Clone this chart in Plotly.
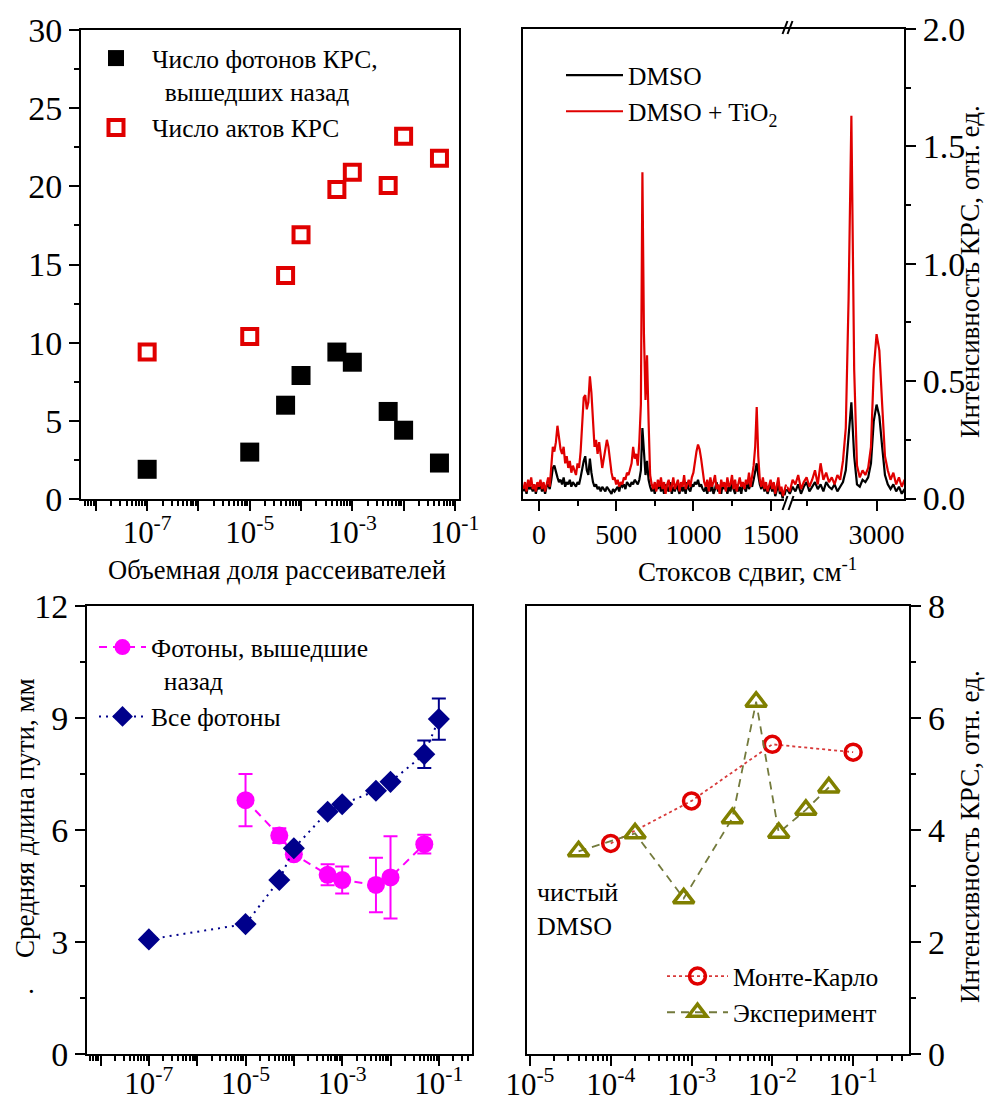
import plotly.graph_objects as go

W, H = 1002, 1105
FONT = "Liberation Serif, Times New Roman, serif"

# ---------------- Panel A: numbers of Raman photons / acts ----------------
a_fraction = [1e-7, 1e-5, 5e-5, 1e-4, 5e-4, 1e-3, 5e-3, 1e-2, 5e-2]
a_back_photons = [1.9, 3.0, 6.0, 7.9, 9.4, 8.75, 5.6, 4.4, 2.3]
a_raman_acts = [9.4, 10.4, 14.3, 16.9, 19.8, 20.9, 20.05, 23.2, 21.8]

# ---------------- Panel B: Raman spectra (two segments, axis break) ----------------
b_x_left = list(range(-100, 1610, 10))
b_dmso_tio2_left = [
    0.04, 0.07, 0.03, 0.08, 0.05, 0.09, 0.04, 0.06, 0.03, 0.07,
    0.05, 0.08, 0.04, 0.07, 0.03, 0.06, 0.09, 0.05, 0.12, 0.22,
    0.20, 0.24, 0.31, 0.27, 0.21, 0.19, 0.22, 0.15, 0.18, 0.13,
    0.16, 0.11, 0.14, 0.12, 0.10, 0.15, 0.13, 0.20, 0.32, 0.43,
    0.44, 0.38, 0.41, 0.52, 0.45, 0.30, 0.22, 0.25, 0.19, 0.24,
    0.18, 0.13, 0.17, 0.21, 0.25, 0.22, 0.16, 0.11, 0.08, 0.09,
    0.06, 0.08, 0.05, 0.07, 0.06, 0.09, 0.08, 0.11, 0.10, 0.13,
    0.15, 0.22, 0.17, 0.19, 0.14, 0.24, 0.40, 1.39, 0.70, 0.42,
    0.61, 0.33, 0.10, 0.06, 0.04, 0.07, 0.03, 0.08, 0.05, 0.09,
    0.04, 0.07, 0.02, 0.06, 0.08, 0.03, 0.05, 0.09, 0.04, 0.06,
    0.08, 0.03, 0.07, 0.05, 0.10, 0.04, 0.06, 0.08, 0.05, 0.09,
    0.11, 0.16, 0.20, 0.23, 0.21, 0.17, 0.12, 0.07, 0.05, 0.08,
    0.03, 0.09, 0.05, 0.07, 0.10, 0.04, 0.06, 0.02, 0.08, 0.05,
    0.07, 0.03, 0.09, 0.05, 0.06, 0.10, 0.04, 0.08, 0.03, 0.06,
    0.09, 0.05, 0.07, 0.04, 0.08, 0.06, 0.11, 0.05, 0.09, 0.14,
    0.22, 0.39, 0.18, 0.08, 0.05, 0.09, 0.04, 0.07, 0.03, 0.06,
    0.08, 0.04, 0.07, 0.02, 0.06, 0.09, 0.03, 0.05, 0.01, 0.04,
    0.06,
]
b_dmso_left = [
    0.03, 0.05, 0.02, 0.06, 0.04, 0.05, 0.03, 0.06, 0.02, 0.05,
    0.04, 0.06, 0.03, 0.05, 0.02, 0.05, 0.06, 0.04, 0.08, 0.13,
    0.14, 0.11, 0.09, 0.07, 0.08, 0.06, 0.09, 0.05, 0.07, 0.06,
    0.08, 0.05, 0.07, 0.06, 0.05, 0.07, 0.06, 0.09, 0.13, 0.16,
    0.18, 0.12, 0.10, 0.17, 0.11, 0.07, 0.05, 0.06, 0.04, 0.05,
    0.03, 0.05, 0.04, 0.03, 0.05, 0.04, 0.03, 0.02, 0.04, 0.03,
    0.04, 0.05, 0.03, 0.06, 0.05, 0.06, 0.04, 0.07, 0.06, 0.05,
    0.07, 0.06, 0.08, 0.07, 0.06, 0.08, 0.12, 0.30, 0.19, 0.10,
    0.16, 0.08, 0.05, 0.03, 0.05, 0.02, 0.06, 0.04, 0.07, 0.03,
    0.05, 0.02, 0.06, 0.04, 0.03, 0.07, 0.02, 0.05, 0.03, 0.06,
    0.04, 0.02, 0.06, 0.03, 0.05, 0.02, 0.07, 0.04, 0.03, 0.06,
    0.05, 0.07, 0.06, 0.08, 0.05, 0.06, 0.04, 0.03, 0.05, 0.02,
    0.05, 0.03, 0.06, 0.02, 0.04, 0.07, 0.03, 0.05, 0.02, 0.06,
    0.04, 0.06, 0.02, 0.05, 0.03, 0.07, 0.04, 0.02, 0.06, 0.03,
    0.05, 0.02, 0.06, 0.04, 0.03, 0.07, 0.04, 0.06, 0.05, 0.08,
    0.11, 0.15, 0.10, 0.06, 0.04, 0.07, 0.03, 0.05, 0.02, 0.04,
    0.06, 0.03, 0.05, 0.01, 0.04, 0.06, 0.02, 0.03, -0.01, 0.02,
    0.04,
]
b_x_right = list(range(2680, 3110, 10))
b_dmso_tio2_right = [
    0.05, 0.03, 0.08, 0.06, 0.10, 0.04, 0.07, 0.09, 0.05, 0.08,
    0.12, 0.06, 0.15, 0.08, 0.11, 0.07, 0.09, 0.06, 0.10, 0.08,
    0.16, 0.30, 0.85, 1.63, 0.55, 0.14, 0.09, 0.12, 0.10, 0.13,
    0.22, 0.55, 0.70, 0.63, 0.40, 0.18, 0.12, 0.08, 0.11, 0.06,
    0.09, 0.05, 0.08,
]
b_dmso_right = [
    0.04, 0.02, 0.05, 0.03, 0.06, 0.02, 0.05, 0.07, 0.03, 0.05,
    0.07, 0.04, 0.06, 0.03, 0.07, 0.05, 0.04, 0.06, 0.03, 0.05,
    0.07, 0.12, 0.28, 0.41, 0.18, 0.06, 0.05, 0.08, 0.07, 0.09,
    0.15, 0.33, 0.40, 0.35, 0.22, 0.10, 0.06, 0.04, 0.06, 0.03,
    0.05, 0.02, 0.04,
]

# ---------------- Panel C: mean path length ----------------
c_fraction_back = [1e-5, 5e-5, 1e-4, 5e-4, 1e-3, 5e-3, 1e-2, 5e-2]
c_path_back = [6.8, 5.85, 5.35, 4.8, 4.66, 4.53, 4.73, 5.62]
c_path_back_err = [0.7, 0.2, 0.12, 0.28, 0.36, 0.73, 1.1, 0.25]
c_fraction_all = [1e-7, 1e-5, 5e-5, 1e-4, 5e-4, 1e-3, 5e-3, 1e-2, 5e-2, 1e-1]
c_path_all = [3.07, 3.48, 4.66, 5.51, 6.49, 6.69, 7.05, 7.29, 8.03, 8.97]
c_path_all_err = [0, 0, 0, 0, 0, 0, 0, 0, 0.37, 0.55]

# ---------------- Panel D: Raman intensity ----------------
d_fraction_mc = [1e-4, 1e-3, 1e-2, 1e-1]
d_intensity_mc = [3.76, 4.52, 5.53, 5.39]
d_fraction_exp = [4e-5, 2e-4, 8e-4, 3.2e-3, 6.3e-3, 1.2e-2, 2.6e-2, 5e-2]
d_intensity_exp = [3.62, 3.94, 2.78, 4.21, 6.29, 3.95, 4.36, 4.76]

# tick values / labels
decade_ticks = [1e-8, 1e-7, 1e-6, 1e-5, 1e-4, 1e-3, 1e-2, 1e-1]
odd_decade_vals = [1e-7, 1e-5, 1e-3, 1e-1]
odd_decade_text = ["10<sup>-7</sup>", "10<sup>-5</sup>", "10<sup>-3</sup>", "10<sup>-1</sup>"]
d_tickvals = [1e-5, 1e-4, 1e-3, 1e-2, 1e-1]
d_ticktext = ["10<sup>-5</sup>", "10<sup>-4</sup>", "10<sup>-3</sup>", "10<sup>-2</sup>", "10<sup>-1</sup>"]
log_minor = [m * 10.0 ** e for e in range(-9, 0) for m in range(2, 10)]


def px(x):
    return x / W


def py(y):
    return 1 - y / H


RED = "#e00000"
MAG = "#ff00ff"
NAVY = "#00008b"
OLIVE = "#808000"

fig = go.Figure()

# Panel A
fig.add_trace(go.Scatter(x=a_fraction, y=a_back_photons, mode="markers",
                         name="Число фотонов КРС,<br>&nbsp;&nbsp;вышедших назад",
                         marker=dict(symbol="square", size=19, color="black"),
                         xaxis="x", yaxis="y", legend="legend"))
fig.add_trace(go.Scatter(x=a_fraction, y=a_raman_acts, mode="markers",
                         name="Число актов КРС",
                         marker=dict(symbol="square-open", size=15, color=RED,
                                     line=dict(width=4, color=RED)),
                         xaxis="x", yaxis="y", legend="legend"))
# invisible companion so the label-only axis of panel A gets drawn
fig.add_trace(go.Scatter(x=a_fraction, y=a_back_photons, mode="markers", showlegend=False,
                         marker=dict(opacity=0), hoverinfo="skip", xaxis="x6", yaxis="y"))

# Panel B
fig.add_trace(go.Scatter(x=b_x_left, y=b_dmso_left, mode="lines", name="DMSO",
                         line=dict(color="black", width=2.2),
                         xaxis="x2", yaxis="y2", legend="legend2"))
fig.add_trace(go.Scatter(x=b_x_left, y=b_dmso_tio2_left, mode="lines",
                         name="DMSO + TiO<sub>2</sub>",
                         line=dict(color=RED, width=2.2),
                         xaxis="x2", yaxis="y2", legend="legend2"))
fig.add_trace(go.Scatter(x=b_x_right, y=b_dmso_right, mode="lines", showlegend=False,
                         line=dict(color="black", width=2.2), xaxis="x3", yaxis="y3"))
fig.add_trace(go.Scatter(x=b_x_right, y=b_dmso_tio2_right, mode="lines", showlegend=False,
                         line=dict(color=RED, width=2.2), xaxis="x3", yaxis="y3"))

# Panel C
fig.add_trace(go.Scatter(x=c_fraction_back, y=c_path_back, mode="lines+markers",
                         name="Фотоны, вышедшие<br>&nbsp;&nbsp;назад",
                         line=dict(color=MAG, width=2, dash="8px,6px"),
                         marker=dict(symbol="circle", size=18, color=MAG),
                         error_y=dict(type="data", array=c_path_back_err, color=MAG,
                                      thickness=2, width=7),
                         xaxis="x4", yaxis="y4", legend="legend3"))
fig.add_trace(go.Scatter(x=c_fraction_all, y=c_path_all, mode="lines+markers",
                         name="Все фотоны",
                         line=dict(color=NAVY, width=2, dash="2px,5px"),
                         marker=dict(symbol="diamond", size=17, color=NAVY),
                         error_y=dict(type="data", array=c_path_all_err, color=NAVY,
                                      thickness=2, width=7),
                         xaxis="x4", yaxis="y4", legend="legend3"))
fig.add_trace(go.Scatter(x=c_fraction_all, y=c_path_all, mode="markers", showlegend=False,
                         marker=dict(opacity=0), hoverinfo="skip", xaxis="x7", yaxis="y4"))

# Panel D
fig.add_trace(go.Scatter(x=d_fraction_mc, y=d_intensity_mc, mode="lines+markers",
                         name="Монте-Карло",
                         line=dict(color="#d83a3a", width=1.8, dash="3px,3px"),
                         marker=dict(symbol="circle-open", size=16, color=RED,
                                     line=dict(width=3.5, color=RED)),
                         xaxis="x5", yaxis="y5", legend="legend4"))
fig.add_trace(go.Scatter(x=d_fraction_exp, y=d_intensity_exp, mode="lines+markers",
                         name="Эксперимент",
                         line=dict(color="#737a3c", width=1.8, dash="8px,6px"),
                         marker=dict(symbol="triangle-up-open", size=18, color=OLIVE,
                                     line=dict(width=3.5, color=OLIVE)),
                         xaxis="x5", yaxis="y5", legend="legend4"))

tickfont = dict(family=FONT, size=34, color="black")
logfont = dict(family=FONT, size=31, color="black")
base = dict(showline=True, linewidth=2, linecolor="black", ticks="outside", ticklen=10,
            tickwidth=2, tickcolor="black", showgrid=False, zeroline=False, tickfont=tickfont,
            automargin=False)
minor_lin = dict(ticks="outside", ticklen=5, tickwidth=2, tickcolor="black", showgrid=False)
minor_log = dict(ticks="outside", ticklen=5, tickwidth=2, tickcolor="black", showgrid=False,
                 tickvals=log_minor)
# label-only overlay axis (no line, invisible tick marks)
label_only = dict(showline=False, ticks="outside", ticklen=10, tickcolor="rgba(0,0,0,0)",
                  showgrid=False, zeroline=False, tickfont=logfont, automargin=False,
                  type="log")

dom_top = [py(498.5), py(29)]
dom_bot = [py(1054), py(606)]
dom_a_x = [px(81), px(459)]
dom_c_x = [px(87), px(471.7)]

legfont = dict(family=FONT, size=25.5, color="black")
legbase = dict(xanchor="left", yanchor="top", bgcolor="rgba(0,0,0,0)", font=legfont,
               tracegroupgap=0, valign="top", borderwidth=0)

fig.update_layout(
    template="none",
    width=W, height=H, margin=dict(l=0, r=0, t=0, b=0, autoexpand=False),
    paper_bgcolor="white", plot_bgcolor="white",
    font=dict(family=FONT, color="black"),
    showlegend=True,
    # Panel A
    xaxis=dict(base, domain=dom_a_x, type="log", range=[-8.29, -0.92], anchor="y",
               mirror=True, tickvals=decade_ticks, showticklabels=False, minor=minor_log),
    xaxis6=dict(label_only, domain=dom_a_x, range=[-8.29, -0.92], anchor="y",
                overlaying="x", tickvals=odd_decade_vals, ticktext=odd_decade_text,
                ticklabelstandoff=-4),
    yaxis=dict(base, domain=[py(499), py(30)], range=[0, 30], anchor="x", mirror=True,
               tickvals=[0, 5, 10, 15, 20, 25, 30], minor=dict(minor_lin, dtick=2.5)),
    # Panel B (left and right segments)
    xaxis2=dict(base, domain=[px(523), px(787)], range=[-103, 1606], anchor="y2", mirror=True,
                tickvals=[0, 500, 1000, 1500], tickfont=dict(family=FONT, size=28, color="black"),
                minor=dict(minor_lin, tickvals=[250, 750, 1250])),
    yaxis2=dict(showline=True, linewidth=2, linecolor="black", domain=dom_top, range=[0, 2],
                anchor="x2", showticklabels=False, ticks="", showgrid=False, zeroline=False,
                automargin=False),
    xaxis3=dict(base, domain=[px(787), px(904)], range=[2680, 3098], anchor="y3", mirror=True,
                tickvals=[3000], tickfont=dict(family=FONT, size=28, color="black"),
                minor=dict(minor_lin, tickvals=[2750])),
    yaxis3=dict(base, domain=dom_top, range=[0, 2], anchor="x3", side="right",
                tickvals=[0, 0.5, 1.0, 1.5, 2.0], tickformat=".1f",
                minor=dict(minor_lin, dtick=0.25)),
    # Panel C
    xaxis4=dict(base, domain=dom_c_x, type="log", range=[-8.28, -0.32],
                anchor="y4", mirror=True, tickvals=decade_ticks, showticklabels=False,
                minor=minor_log),
    xaxis7=dict(label_only, domain=dom_c_x, range=[-8.28, -0.32], anchor="y4",
                overlaying="x4", tickvals=odd_decade_vals, ticktext=odd_decade_text,
                ticklabelstandoff=-8),
    yaxis4=dict(base, domain=dom_bot, range=[0, 12], anchor="x4", mirror=True,
                tickvals=[0, 3, 6, 9, 12], minor=dict(minor_lin, dtick=1.5)),
    # Panel D
    xaxis5=dict(base, domain=[px(526.7), px(909.3)], type="log", range=[-5.04, -0.305],
                anchor="y5", mirror=True, tickvals=d_tickvals, ticktext=d_ticktext,
                tickfont=logfont, minor=minor_log, ticklabelstandoff=-8),
    yaxis5=dict(base, domain=dom_bot, range=[0, 8], anchor="x5", side="right", mirror=True,
                tickvals=[0, 2, 4, 6, 8], minor=dict(minor_lin, dtick=1)),
    legend=dict(legbase, x=px(80), y=py(35), itemwidth=62),
    legend2=dict(legbase, x=px(561), y=py(52), itemwidth=57),
    legend3=dict(legbase, x=px(94), y=py(624), itemwidth=47),
    legend4=dict(legbase, x=px(662), y=py(953), itemwidth=61),
)

ann_font = dict(family=FONT, size=27, color="black")
annotations = [
    dict(text="Объемная доля рассеивателей", x=px(277), y=py(570), xref="paper", yref="paper",
         showarrow=False, font=dict(family=FONT, size=26.5, color="black"),
         xanchor="center", yanchor="middle"),
    dict(text="Стоксов сдвиг, см<sup>-1</sup>", x=px(747), y=py(570), xref="paper", yref="paper",
         showarrow=False, font=ann_font, xanchor="center", yanchor="middle"),
    dict(text="Интенсивность КРС, отн. ед.", x=px(970), y=py(272), xref="paper", yref="paper",
         showarrow=False, font=ann_font, textangle=-90, xanchor="center", yanchor="middle"),
    dict(text="Средняя длина пути, мм", x=px(25), y=py(818), xref="paper", yref="paper",
         showarrow=False, font=ann_font, textangle=-90, xanchor="center", yanchor="middle"),
    dict(text="Интенсивность КРС, отн. ед.", x=px(970), y=py(837), xref="paper", yref="paper",
         showarrow=False, font=ann_font, textangle=-90, xanchor="center", yanchor="middle"),
    dict(text="чистый<br>DMSO", x=px(535), y=py(909), xref="paper", yref="paper",
         showarrow=False, font=dict(family=FONT, size=26, color="black"), align="left",
         xanchor="left", yanchor="middle"),
    dict(text=".", x=px(32), y=py(984), xref="paper", yref="paper",
         showarrow=False, font=ann_font, xanchor="center", yanchor="middle"),
]
fig.update_layout(annotations=annotations)

# axis break marks in panel B
brk = dict(type="line", xref="paper", yref="paper", line=dict(color="black", width=2))
shapes = [
    dict(type="rect", xref="paper", yref="paper", x0=px(784), x1=px(792), y0=py(501),
         y1=py(495.5), fillcolor="white", line=dict(width=0)),
    dict(brk, x0=px(782.5), y0=py(510), x1=px(787.5), y1=py(496)),
    dict(brk, x0=px(788.5), y0=py(510), x1=px(793.5), y1=py(496)),
    dict(brk, x0=px(782.5), y0=py(34), x1=px(787.5), y1=py(21)),
    dict(brk, x0=px(787.5), y0=py(34), x1=px(792.5), y1=py(21)),
]
fig.update_layout(shapes=shapes)

fig.write_html("out.html", post_script="document.body.style.margin='0';",
               config={"displayModeBar": False})
